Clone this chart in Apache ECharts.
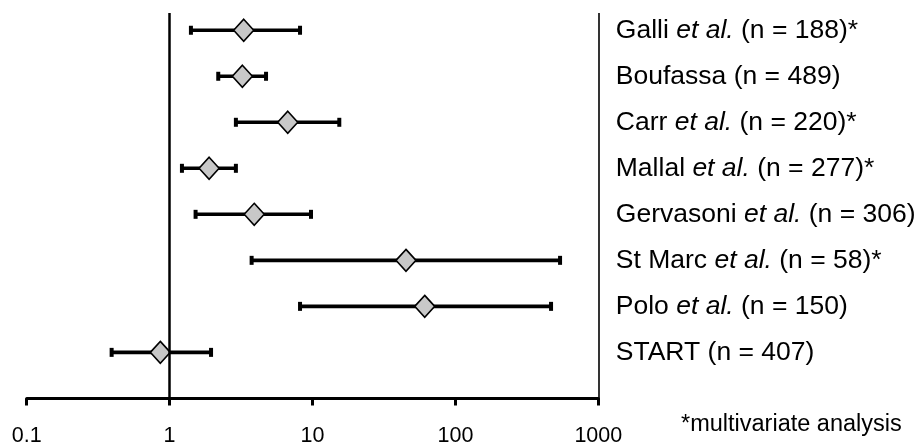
<!DOCTYPE html>
<html>
<head>
<meta charset="utf-8">
<script src="https://cdn.jsdelivr.net/npm/echarts@6/dist/echarts.min.js"></script>
<style>
  html, body { margin: 0; padding: 0; background: #fff; }
  #chart { width: 915px; height: 447px; }
</style>
</head>
<body>
<div id="chart"></div>
<script>
// Study names, top to bottom
const studies = ['Galli', 'Boufassa', 'Carr', 'Mallal', 'Gervasoni', 'St Marc', 'Polo', 'START'];
const etAl = [true, false, true, true, true, true, true, false];
const sampleN = [188, 489, 220, 277, 306, 58, 150, 407];
const multivariate = [true, false, true, true, false, true, false, false];

// Odds ratio point estimates with lower / upper confidence limits
const estimate = [3.30, 3.23, 6.71, 1.89, 3.91, 45.1, 61.0, 0.861];
const lower    = [1.41, 2.19, 2.91, 1.22, 1.52, 3.75, 8.18, 0.393];
const upper    = [8.18, 4.73, 15.4, 2.91, 9.76, 540, 467, 1.95];

// Log-scale tick values
const xTicks = [0.1, 1, 10, 100, 1000];
const footnote = '*multivariate analysis';

const FONT = '"Liberation Sans", Arial, sans-serif';

function labelText(i) {
  const parts = ['{n|' + studies[i] + ' }'];
  if (etAl[i]) parts.push('{i|et al.}{n| }');
  parts.push('{n|(n = ' + sampleN[i] + ')' + (multivariate[i] ? '*' : '') + '}');
  return parts.join('');
}

const rows = studies.map((s, i) => [i, studies.length - i, lower[i], estimate[i], upper[i]]);

const chart = echarts.init(document.getElementById('chart'), null, { renderer: 'canvas' });

chart.setOption({
  animation: false,
  backgroundColor: '#ffffff',
  grid: { left: 26.7, right: 316.7, top: 13, bottom: 46, containLabel: false },
  xAxis: {
    type: 'log',
    logBase: 10,
    min: xTicks[0],
    max: xTicks[xTicks.length - 1],
    splitLine: { show: false },
    axisLine: { show: true, lineStyle: { color: '#000', width: 3 } },
    axisTick: { show: true, length: 7, lineStyle: { color: '#000', width: 3 } },
    axisLabel: {
      color: '#000',
      fontFamily: FONT,
      fontSize: 21.5,
      margin: 25,
      formatter: v => String(+v.toPrecision(6))
    }
  },
  yAxis: {
    type: 'value',
    min: -0.035,
    max: 8.375,
    show: false
  },
  graphic: [{
    type: 'text',
    left: 681,
    top: 413,
    style: {
      text: footnote,
      font: '23.5px ' + FONT,
      fill: '#000'
    }
  }],
  series: [{
    type: 'custom',
    data: rows,
    encode: { x: [2, 3, 4], y: 1 },
    clip: false,
    renderItem: function (params, api) {
      const i = api.value(0);
      const y = api.value(1);
      const pLo = api.coord([api.value(2), y]);
      const pMid = api.coord([api.value(3), y]);
      const pHi = api.coord([api.value(4), y]);
      const pLab = api.coord([xTicks[xTicks.length - 1], y]);
      const capW = 4, capH = 9, dw = 10, dh = 11;
      return {
        type: 'group',
        children: [
          { type: 'line', shape: { x1: pLo[0], y1: pLo[1], x2: pHi[0], y2: pHi[1] },
            style: { stroke: '#000', lineWidth: 3.6 } },
          { type: 'rect', shape: { x: pLo[0] - capW / 2, y: pLo[1] - capH / 2, width: capW, height: capH },
            style: { fill: '#000' } },
          { type: 'rect', shape: { x: pHi[0] - capW / 2, y: pHi[1] - capH / 2, width: capW, height: capH },
            style: { fill: '#000' } },
          { type: 'polygon',
            shape: { points: [[pMid[0], pMid[1] - dh], [pMid[0] + dw, pMid[1]], [pMid[0], pMid[1] + dh], [pMid[0] - dw, pMid[1]]] },
            style: { fill: '#c8c8c8', stroke: '#000', lineWidth: 1.6 } },
          { type: 'text', x: pLab[0] + 17.5, y: pLab[1],
            style: {
              text: labelText(i),
              verticalAlign: 'middle',
              align: 'left',
              rich: {
                n: { fontFamily: FONT, fontSize: 26.5, color: '#000' },
                i: { fontFamily: FONT, fontSize: 26.5, fontStyle: 'italic', color: '#000' }
              }
            } }
        ]
      };
    },
    markLine: {
      silent: true,
      symbol: 'none',
      label: { show: false },
      data: [
        { xAxis: 1, lineStyle: { color: '#000', width: 2.5, type: 'solid' } },
        { xAxis: 1000, lineStyle: { color: '#000', width: 1.6, type: 'solid' } }
      ]
    }
  }]
});
</script>
</body>
</html>
